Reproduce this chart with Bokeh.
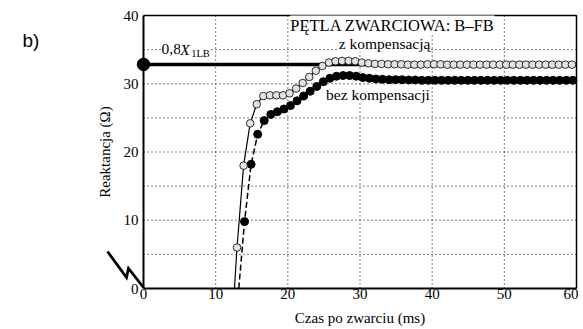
from bokeh.plotting import figure
from bokeh.models import Label, FixedTicker, Range1d
from bokeh.embed import file_html
from bokeh.resources import INLINE

# ---- data ----
dt = 0.91                 # sampling step (ms)
t0_komp = 12.96           # first sample, with compensation
t0_bez = 14.0             # first sample, without compensation
z_kompensacja = [6.0, 18.0, 24.2, 27.0, 28.2, 28.3, 28.3, 28.3, 28.6, 29.3,
                 30.1, 31.0, 31.9, 32.6, 33.1, 33.3, 33.35, 33.35, 33.3, 33.1,
                 33.0, 32.9, 32.9, 32.85, 32.85, 32.85, 32.8, 32.8, 32.8, 32.85,
                 32.85, 32.85, 32.8, 32.8, 32.8, 32.8, 32.8, 32.8, 32.8, 32.8,
                 32.8, 32.8, 32.8, 32.8, 32.8, 32.8, 32.8, 32.8, 32.8, 32.8,
                 32.8, 32.8]
bez_kompensacji = [9.8, 18.2, 22.6, 24.6, 25.5, 25.9, 26.3, 26.8, 27.5, 28.2,
                   28.9, 29.6, 30.3, 30.8, 31.1, 31.2, 31.2, 31.1, 30.9, 30.8,
                   30.7, 30.65, 30.6, 30.6, 30.6, 30.55, 30.55, 30.5, 30.5, 30.5,
                   30.5, 30.5, 30.5, 30.5, 30.5, 30.5, 30.5, 30.5, 30.5, 30.5,
                   30.5, 30.5, 30.5, 30.5, 30.5, 30.5, 30.5, 30.5, 30.5, 30.5,
                   30.5]
start_komp = 12.6         # where the curve leaves zero
start_bez = 13.2
setting = 32.83           # 0,8 X1LB
x_ticks = [0, 10, 20, 30, 40, 50, 60]
y_ticks = [0, 10, 20, 30, 40]
x_grid = [10, 20, 30, 40, 50]
y_grid = [5, 10, 15, 20, 25, 30, 35]
X_MIN, X_MAX, Y_MIN, Y_MAX = 0, 60, 0, 40

t_komp = [t0_komp + dt * i for i in range(len(z_kompensacja))]
t_bez = [t0_bez + dt * i for i in range(len(bez_kompensacji))]

SERIF = "Liberation Serif"

# ---- layout: the frame fills the canvas; the data box sits inside it ----
W, H = 578, 326
BOX_L, BOX_R, BOX_T, BOX_B = 143, 576, 15, 288      # pixel edges of the data box
sx = (BOX_R - BOX_L) / (X_MAX - X_MIN)
sy = (BOX_B - BOX_T) / (Y_MAX - Y_MIN)
xr = Range1d(X_MIN - BOX_L / sx, X_MAX + (W - BOX_R) / sx)
yr = Range1d(Y_MIN - (H - BOX_B) / sy, Y_MAX + BOX_T / sy)

def dx(px):   # canvas pixel -> data x (for decorations outside the box)
    return X_MIN + (px - BOX_L) / sx

def dy(py):
    return Y_MIN + (BOX_B - py) / sy

p = figure(width=W, height=H, output_backend="svg", toolbar_location=None,
           x_range=xr, y_range=yr, min_border=0,
           min_border_left=0, min_border_right=0, min_border_top=0,
           min_border_bottom=0)
p.grid.visible = False
p.outline_line_color = None
p.background_fill_color = "white"
p.border_fill_color = "white"

for ax in (p.xaxis, p.yaxis):
    ax.major_tick_in = 0
    ax.major_tick_out = 0
    ax.minor_tick_line_color = None
    ax.axis_line_width = 2
    ax.axis_line_color = "black"
    ax.major_label_text_font = SERIF
    ax.major_label_text_font_size = "15px"
    ax.major_label_text_color = "black"
    ax.axis_label_text_font = SERIF
    ax.axis_label_text_font_size = "15px"
    ax.axis_label_text_font_style = "normal"
    ax.axis_label_text_color = "black"

p.xaxis.fixed_location = Y_MIN
p.yaxis.fixed_location = X_MIN
p.xaxis.bounds = (X_MIN, X_MAX)
p.yaxis.bounds = (Y_MIN, Y_MAX)
p.xaxis.ticker = FixedTicker(ticks=x_ticks)
p.yaxis.ticker = FixedTicker(ticks=y_ticks)
p.xaxis.major_label_standoff = 0
p.yaxis.major_label_standoff = 5
p.xaxis.axis_label = "Czas po zwarciu (ms)"
p.yaxis.axis_label = "Reaktancja (Ω)"
p.xaxis.axis_label_standoff = 8
p.yaxis.axis_label_standoff = 8

# dotted grid inside the box
p.segment(x_grid, [Y_MIN] * len(x_grid), x_grid, [Y_MAX] * len(x_grid),
          line_color="black", line_dash="1 3", line_width=1)
p.segment([X_MIN] * len(y_grid), y_grid, [X_MAX] * len(y_grid), y_grid,
          line_color="black", line_dash="1 3", line_width=1)
# top and right edges of the box
p.line([X_MIN, X_MAX, X_MAX], [Y_MAX, Y_MAX, Y_MIN], line_color="black", line_width=1.5)

# setting line and dot
p.line([X_MIN, X_MAX], [setting, setting], line_color="black", line_width=3.5)
p.scatter([X_MIN], [setting], size=12.5, fill_color="black", line_color="black")

# curves
p.line([start_komp] + t_komp, [0] + z_kompensacja, line_color="black", line_width=1.2)
p.line([start_bez] + t_bez, [0] + bez_kompensacji, line_color="black", line_width=1.5,
       line_dash="6 3")
p.scatter(t_bez, bez_kompensacji, size=8, fill_color="black", line_color="black")
p.scatter(t_komp, z_kompensacja, size=7.6, fill_color="#e2e2e2", line_color="black",
          line_width=0.8)

# axis break symbol
zx = [107, 126, 128, 143]
zy = [251, 277, 268, 287]
p.line([dx(v) for v in zx], [dy(v) for v in zy], line_color="black", line_width=2.8,
       line_join="miter")

def lab(x, y, text, size="15.5px", style="normal", align="left",
        baseline="alphabetic", bg=True, font=SERIF):
    p.add_layout(Label(x=x, y=y, text=text, text_font=font, text_font_size=size,
                       text_font_style=style, text_align=align, text_baseline=baseline,
                       text_color="black",
                       background_fill_color="white" if bg else None,
                       padding=0))

lab(34.5, 38.6, "PĘTLA ZWARCIOWA: B–FB", size="16.5px", align="center")
lab(33.4, 35.85, "z kompensacją", align="center")
lab(25.3, 29.7, "bez kompensacji", align="left", baseline="top")
lab(2.5, 35.05, "0,8")
lab(5.1, 35.05, "X", style="italic")
lab(6.6, 34.5, "1LB", size="10.5px")
lab(dx(22), dy(40), "b)", size="19px", bg=False, font="Liberation Sans")

open("out.html", "w").write(file_html(p, INLINE))
